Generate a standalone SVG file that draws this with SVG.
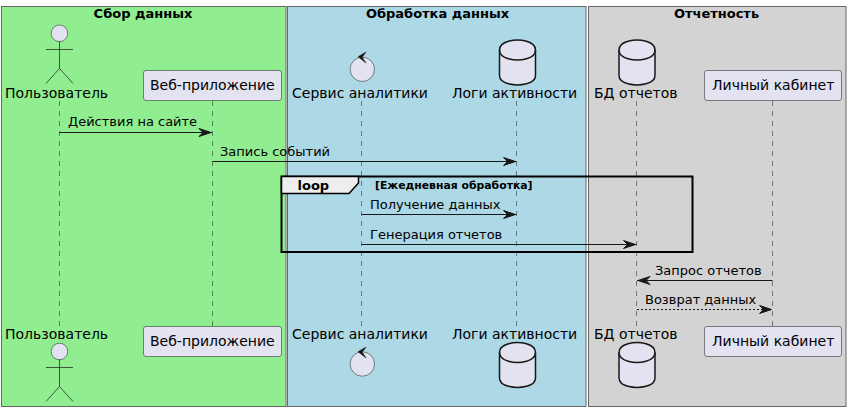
<svg xmlns="http://www.w3.org/2000/svg" width="850" height="411" viewBox="0 0 850 411">
<style>
text{font-family:"DejaVu Sans",sans-serif;fill:#000}
.n{font-size:14px}
.m{font-size:13px}
.h{font-size:13px;font-weight:700;text-anchor:middle}
.b{stroke:#666;stroke-width:1}
.part{fill:#E2E2F0;stroke:#181818;stroke-width:.5}
.db{fill:#E2E2F0;stroke:#181818;stroke-width:1.5}
.ln{fill:none;stroke:#181818;stroke-width:.7}
.life{stroke:#181818;stroke-width:.5;stroke-dasharray:5,5}
.msg{stroke:#181818;stroke-width:1.200;fill:none}
</style>
<defs>
<marker id="a" markerUnits="userSpaceOnUse" markerWidth="15" markerHeight="12" refX="14.500" refY="6" orient="auto"><path d="M1.500,2 L13.500,6 L1.500,10 L5.500,6 Z" fill="#181818" stroke="#181818" stroke-width="1"/></marker>
<g id="cyl"><path class="db" d="M-18,12 C-18,2 0,2 0,2 C0,2 18,2 18,12 L18,37.500 C18,47 0,47 0,47 C0,47 -18,47 -18,37.500 Z"/><path class="db" d="M-18,12 C-18,22 0,22 0,22 C0,22 18,22 18,12" style="fill:none"/></g>
<path id="ctl" d="M8,-17 L0,-12.300 L8,-6 L4.300,-11.800 Z" fill="#181818" stroke="#181818" stroke-width=".5"/>
</defs>
<g id="box-collect"><rect class="b" x="1.500" y="6.500" width="284.500" height="400" fill="#90EE90"/><text class="h" x="143" y="18">Сбор данных</text></g>
<g id="box-process"><rect class="b" x="287.500" y="6.500" width="298.500" height="400" fill="#ADD8E6"/><text class="h" x="437.500" y="18">Обработка данных</text></g>
<g id="box-report"><rect class="b" x="588.500" y="6.500" width="257.500" height="400" fill="#D3D3D3"/><text class="h" x="716.500" y="18">Отчетность</text></g>
<g id="lifelines">
<line class="life" x1="59.500" y1="101" x2="59.500" y2="326"/>
<line class="life" x1="212.500" y1="101" x2="212.500" y2="326"/>
<line class="life" x1="361.500" y1="101" x2="361.500" y2="326"/>
<line class="life" x1="516.500" y1="101" x2="516.500" y2="326"/>
<line class="life" x1="636.500" y1="101" x2="636.500" y2="326"/>
<line class="life" x1="772.500" y1="101" x2="772.500" y2="326"/>
</g>
<g id="user-top"><circle class="part" cx="59.500" cy="33.300" r="8.300"/><path class="ln" d="M59.500,41.500V68.500M46,49.500H73M46,83.500L59.500,68.500L73,83.500"/><text class="n" x="5" y="98">Пользователь</text></g>
<g id="web-top"><rect class="part" x="143.500" y="70.500" width="138" height="30" rx="2.500"/><text class="n" x="150" y="90">Веб-приложение</text></g>
<g id="service-top"><circle class="part" cx="362.300" cy="69.300" r="12.200"/><use href="#ctl" x="358" y="69"/><text class="n" x="292" y="98">Сервис аналитики</text></g>
<g id="logs-top"><use href="#cyl" x="517.500" y="38"/><text class="n" x="452" y="98">Логи активности</text></g>
<g id="reports-top"><use href="#cyl" x="637" y="38"/><text class="n" x="594" y="98">БД отчетов</text></g>
<g id="cabinet-top"><rect class="part" x="704.500" y="70.500" width="137" height="30" rx="2.500"/><text class="n" x="712" y="90">Личный кабинет</text></g>
<g id="user-bottom"><text class="n" x="5" y="339">Пользователь</text><circle class="part" cx="59.500" cy="351.500" r="8.300"/><path class="ln" d="M59.500,359.500V386.500M46,367.500H73M46,401.500L59.500,386.500L73,401.500"/></g>
<g id="web-bottom"><rect class="part" x="143.500" y="326.500" width="138" height="30" rx="2.500"/><text class="n" x="150" y="346">Веб-приложение</text></g>
<g id="service-bottom"><text class="n" x="292" y="339">Сервис аналитики</text><circle class="part" cx="362.300" cy="364" r="12.200"/><use href="#ctl" x="358" y="364"/></g>
<g id="logs-bottom"><text class="n" x="452" y="339">Логи активности</text><use href="#cyl" x="517.500" y="340.500"/></g>
<g id="reports-bottom"><text class="n" x="594" y="339">БД отчетов</text><use href="#cyl" x="637" y="340.500"/></g>
<g id="cabinet-bottom"><rect class="part" x="704.500" y="326.500" width="137" height="30" rx="2.500"/><text class="n" x="712" y="346">Личный кабинет</text></g>
<g id="connectors">
<line class="msg" x1="59.500" y1="132.500" x2="212" y2="132.500" marker-end="url(#a)"/>
<text class="m" x="68" y="125.500">Действия на сайте</text>
<line class="msg" x1="212.500" y1="161.500" x2="516.500" y2="161.500" marker-end="url(#a)"/>
<text class="m" x="220" y="156">Запись событий</text>
<line class="msg" x1="361.500" y1="214.500" x2="516.500" y2="214.500" marker-end="url(#a)"/>
<text class="m" x="370" y="209">Получение данных</text>
<line class="msg" x1="361.500" y1="244.500" x2="636.500" y2="244.500" marker-end="url(#a)"/>
<text class="m" x="370" y="239">Генерация отчетов</text>
<line class="msg" x1="772.500" y1="280.500" x2="637" y2="280.500" marker-end="url(#a)"/>
<text class="m" x="655" y="275">Запрос отчетов</text>
<line class="msg" x1="637" y1="309.500" x2="772.500" y2="309.500" stroke-dasharray="2,2" marker-end="url(#a)"/>
<text class="m" x="645" y="303.500">Возврат данных</text>
</g>
<g id="loop">
<rect x="281.500" y="176.500" width="411" height="75.500" fill="none" stroke="#000" stroke-width="2"/>
<path d="M281.500,176.500H358.500V183L349,193.500H281.500Z" fill="#EEE" stroke="#000" stroke-width="1.500"/>
<text x="297.500" y="190" style="font-size:13px;font-weight:700">loop</text>
<text x="375" y="189" style="font-size:10.850px;font-weight:700">[Ежедневная обработка]</text>
</g>
</svg>
